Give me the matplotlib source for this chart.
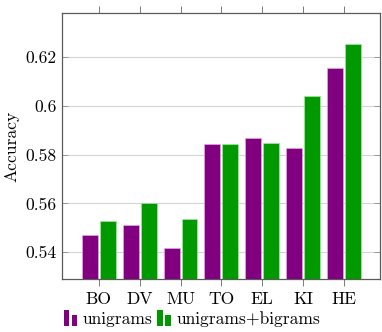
import matplotlib
matplotlib.use("Agg")
import matplotlib.pyplot as plt
import numpy as np
from matplotlib.legend_handler import HandlerBase
from matplotlib.patches import Rectangle

plt.rcParams['font.family'] = ['cmr10', 'DejaVu Serif']
plt.rcParams['axes.unicode_minus'] = False
plt.rcParams['axes.formatter.use_mathtext'] = True

categories = ["BO", "DV", "MU", "TO", "EL", "KI", "HE"]
unigrams = [0.5471, 0.5510, 0.5416, 0.5842, 0.5867, 0.5826, 0.6155]
uni_bigrams = [0.5526, 0.5600, 0.5537, 0.5842, 0.5848, 0.6038, 0.6253]
yticks = [0.54, 0.56, 0.58, 0.60, 0.62]
ytick_labels = ["0.54", "0.56", "0.58", "0.6", "0.62"]

purple = "#800080"
green = "#009900"
fs = 12.6

fig = plt.figure(figsize=(3.82, 3.32), dpi=100)
ax = fig.add_axes([62/382, 1-279/332, (380-62)/382, (279-13)/332])

x = np.arange(len(categories))
w = 0.39
off = 0.22
ax.bar(x - off, unigrams, width=w, color=purple, edgecolor="#e6a6e6", linewidth=0.5, zorder=3, label="unigrams")
ax.bar(x + off, uni_bigrams, width=w, color=green, edgecolor="#a6e6a6", linewidth=0.5, zorder=3, label="unigrams+bigrams")

ax.set_xlim(-0.9, 6.88)
ax.set_ylim(0.529, 0.638)
ax.set_xticks(x)
ax.set_xticklabels(categories, fontsize=fs)
ax.set_yticks(yticks)
ax.set_yticklabels(ytick_labels, fontsize=fs)
ax.set_ylabel("Accuracy", fontsize=fs, labelpad=4)

ax.grid(axis='y', color="#d4d4d4", linewidth=0.8, zorder=0)
ax.set_axisbelow(True)
for s in ax.spines.values():
    s.set_color("#5a5a5a")
    s.set_linewidth(0.9)

ax.tick_params(axis='x', which='both', direction='out', length=5, width=0.7, color="#7a7a7a",
               top=True, bottom=True, pad=4)
ax.tick_params(axis='y', which='both', direction='in', length=4, width=0.7, color="#9a9a9a",
               left=True, right=True, pad=4)


class TwoBarHandler(HandlerBase):
    def __init__(self, color, **kw):
        super().__init__(**kw)
        self.color = color

    def create_artists(self, legend, orig_handle, xdescent, ydescent, width, height, fontsize, trans):
        bw = width * 0.4
        r1 = Rectangle((-xdescent, -ydescent - 0.15 * height), bw, height * 1.25,
                       facecolor=self.color, edgecolor='none', transform=trans)
        r2 = Rectangle((-xdescent + width * 0.57, -ydescent - 0.15 * height), bw, height * 0.9,
                       facecolor=self.color, edgecolor='none', transform=trans)
        return [r1, r2]


h1 = Rectangle((0, 0), 1, 1, color=purple)
h2 = Rectangle((0, 0), 1, 1, color=green)
fig.legend([h1, h2], ["unigrams", "unigrams+bigrams"],
           handler_map={h1: TwoBarHandler(purple), h2: TwoBarHandler(green)},
           loc='center', bbox_to_anchor=(192/382, 1-319/332), ncol=2, frameon=False,
           fontsize=fs, handlelength=0.8, handleheight=0.7, handletextpad=0.3,
           columnspacing=0.25, borderpad=0, borderaxespad=0)

fig.savefig("out.png", dpi=100)
